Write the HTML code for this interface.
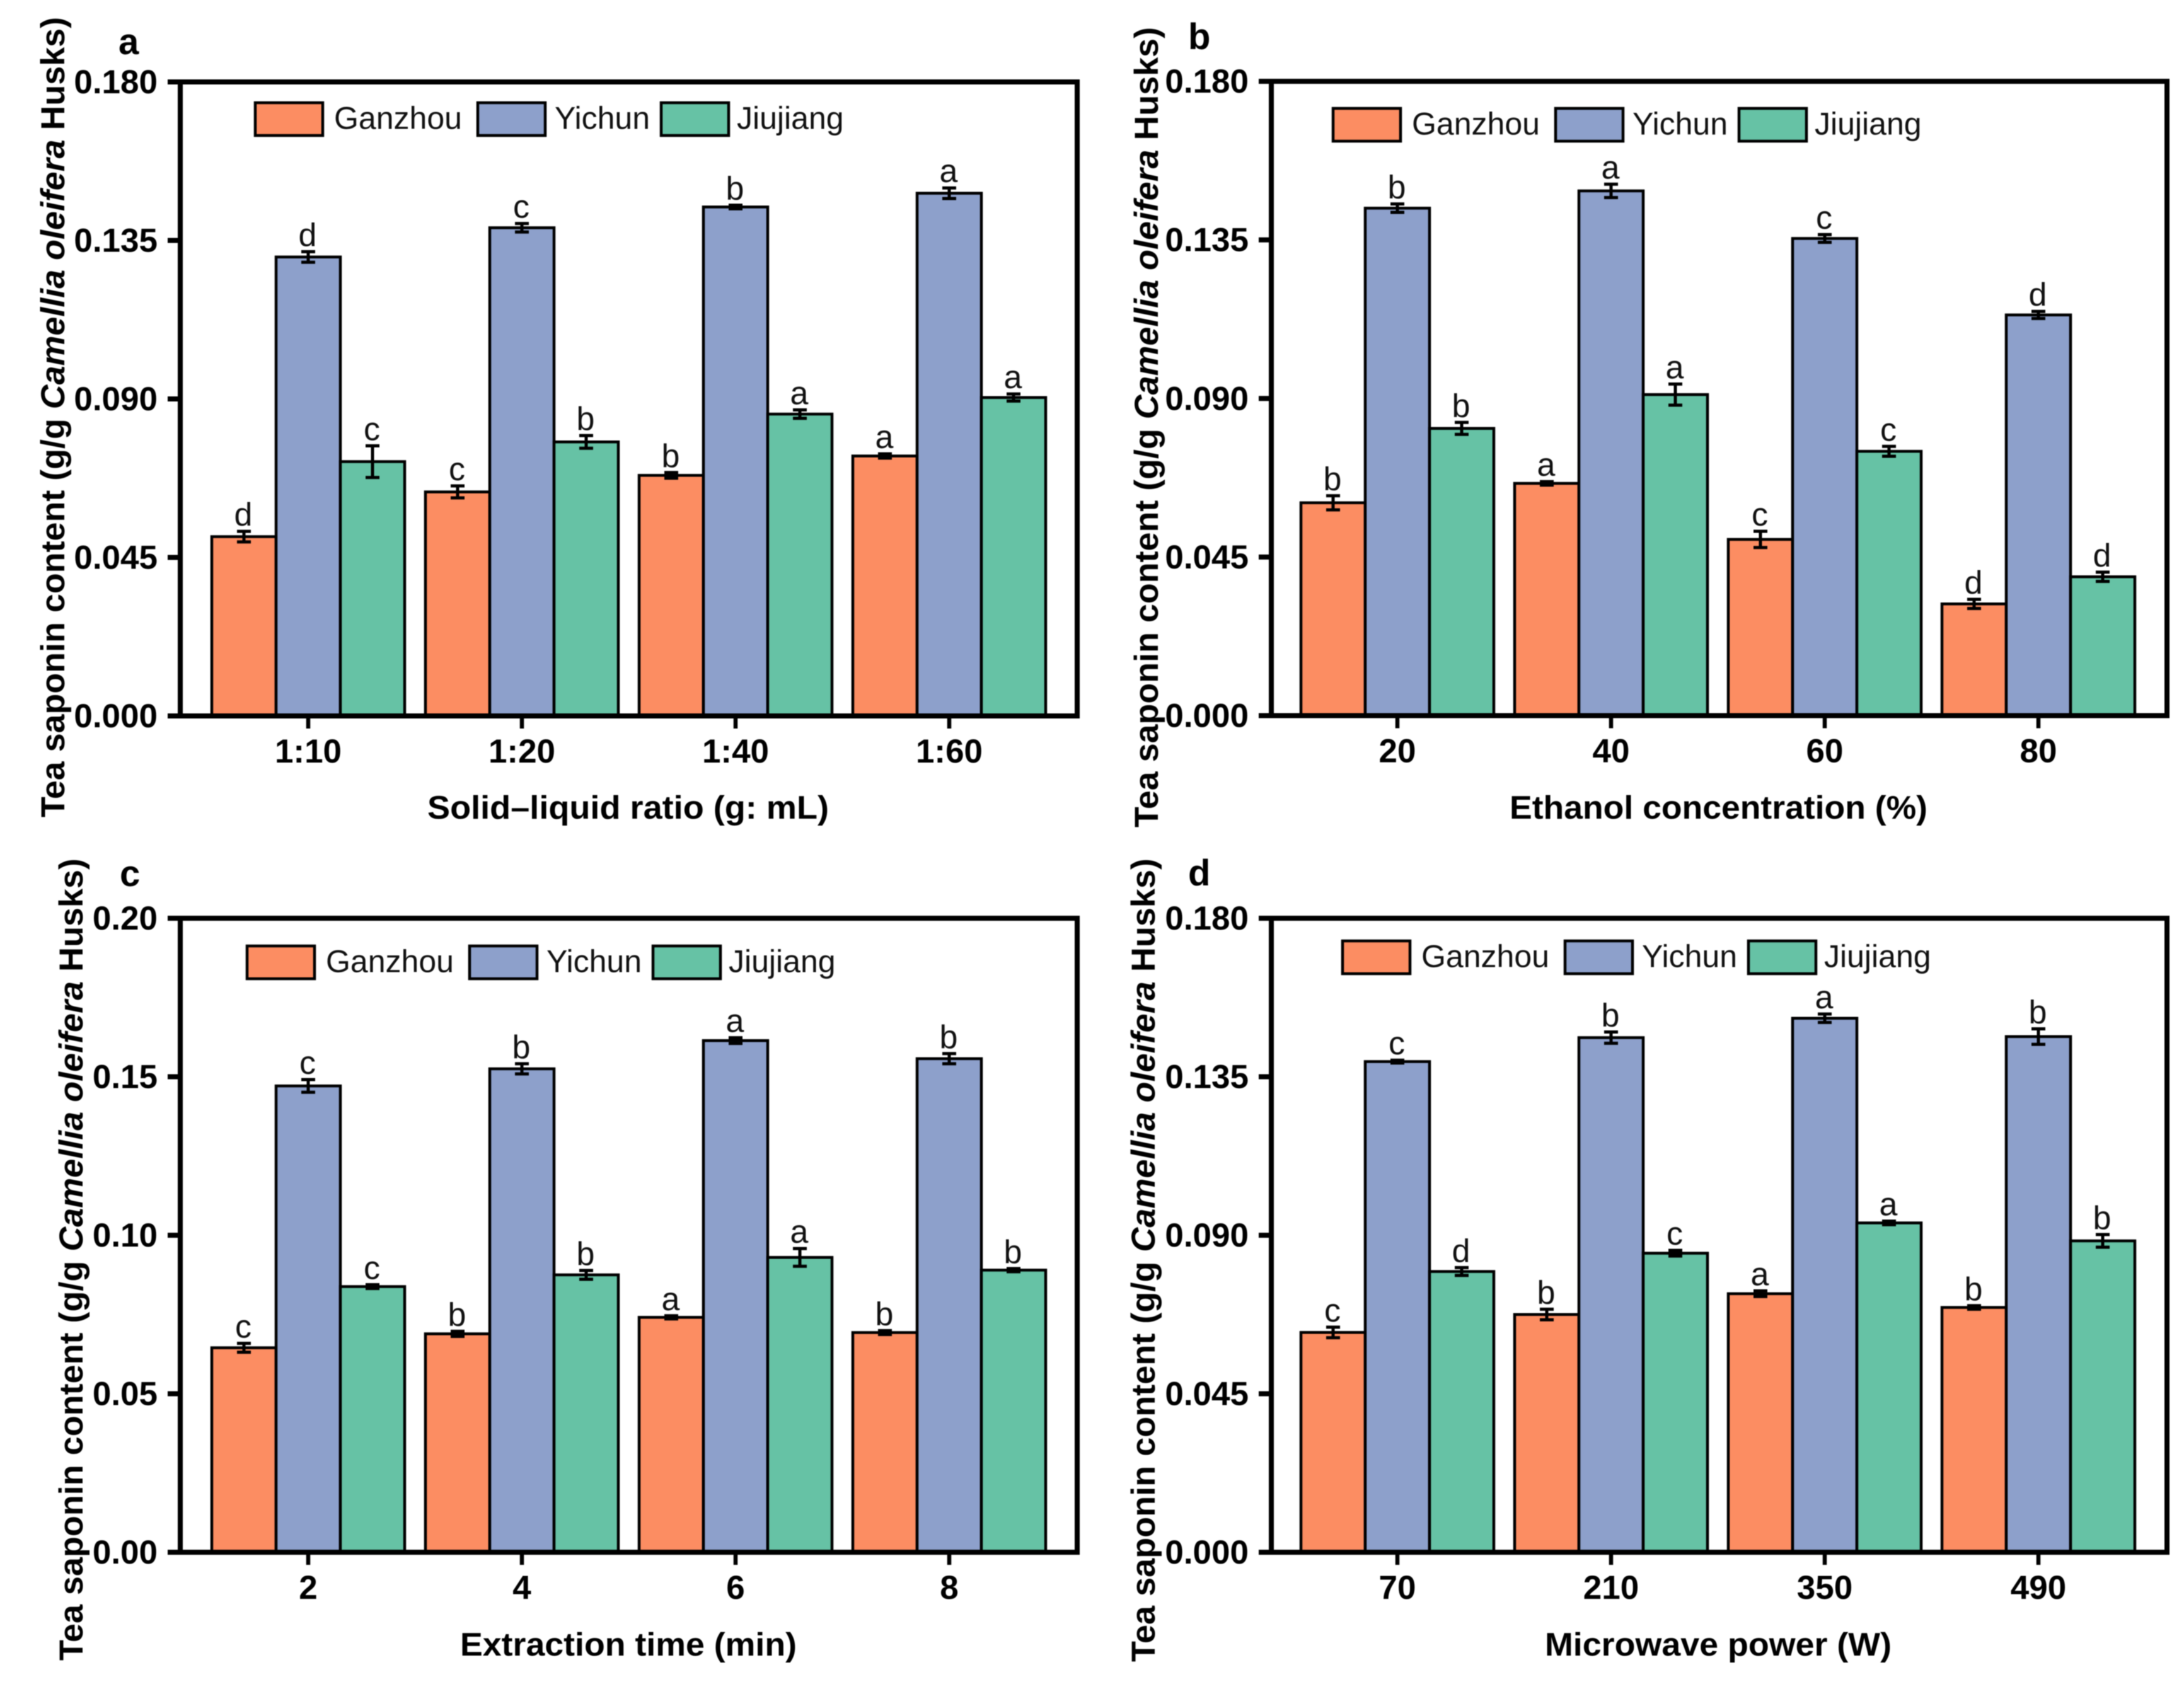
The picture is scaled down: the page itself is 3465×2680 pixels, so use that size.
<!DOCTYPE html>
<html lang="en">
<head>
<meta charset="utf-8">
<title>Tea saponin content by extraction condition</title>
<style>
html,body{margin:0;padding:0;background:#fff;}
svg{display:block;font-family:"Liberation Sans",Arial,sans-serif;filter:blur(0.7px);}
.panel-letter{font-size:58px;font-weight:700;fill:#000;}
.axis-title{font-size:52px;font-weight:700;fill:#000;}
.y-title{font-size:53px;font-weight:700;fill:#000;}
.tick-label{font-size:53px;font-weight:700;fill:#000;}
.legend-text{font-size:50px;font-weight:400;fill:#111;}
.sig-letter{font-size:52px;font-weight:400;fill:#111;text-anchor:middle;}
.sw{stroke:#000;stroke-width:4.5;}
</style>
</head>
<body>
<svg id="chart" xmlns="http://www.w3.org/2000/svg" width="3465" height="2680" viewBox="0 0 3465 2680">
  <rect width="3465" height="2680" fill="#fff"/>

  <g id="panel-a">
    <text class="panel-letter" x="188" y="86">a</text>
    <text class="y-title" transform="translate(102,1297) rotate(-90)" textLength="1270" lengthAdjust="spacingAndGlyphs">Tea saponin content (g/g <tspan font-style="italic">Camellia oleifera</tspan> Husks)</text>
    <text class="axis-title" x="678" y="1299" textLength="637" lengthAdjust="spacingAndGlyphs">Solid–liquid ratio (g: mL)</text>
  </g>

  <g id="panel-b">
    <text class="panel-letter" x="1885" y="78">b</text>
    <text class="y-title" transform="translate(1837,1313) rotate(-90)" textLength="1270" lengthAdjust="spacingAndGlyphs">Tea saponin content (g/g <tspan font-style="italic">Camellia oleifera</tspan> Husks)</text>
    <text class="axis-title" x="2395" y="1299" textLength="663" lengthAdjust="spacingAndGlyphs">Ethanol concentration (%)</text>
  </g>

  <g id="panel-c">
    <text class="panel-letter" x="190" y="1406">c</text>
    <text class="y-title" transform="translate(131,2635) rotate(-90)" textLength="1273" lengthAdjust="spacingAndGlyphs">Tea saponin content (g/g <tspan font-style="italic">Camellia oleifera</tspan> Husks)</text>
    <text class="axis-title" x="730" y="2627" textLength="534" lengthAdjust="spacingAndGlyphs">Extraction time (min)</text>
  </g>

  <g id="panel-d">
    <text class="panel-letter" x="1885" y="1405">d</text>
    <text class="y-title" transform="translate(1832,2637) rotate(-90)" textLength="1275" lengthAdjust="spacingAndGlyphs">Tea saponin content (g/g <tspan font-style="italic">Camellia oleifera</tspan> Husks)</text>
    <text class="axis-title" x="2451" y="2627" textLength="550" lengthAdjust="spacingAndGlyphs">Microwave power (W)</text>
  </g>

  <g id="legend-a">
    <rect class="sw" x="405" y="163" width="107" height="52" fill="#FC8D62"/>
    <text class="legend-text" x="530" y="204.5">Ganzhou</text>
    <rect class="sw" x="758" y="163" width="107" height="52" fill="#8DA0CB"/>
    <text class="legend-text" x="880" y="204.5">Yichun</text>
    <rect class="sw" x="1049" y="163" width="107" height="52" fill="#66C2A5"/>
    <text class="legend-text" x="1169" y="204.5">Jiujiang</text>
  </g>
  <g id="legend-b">
    <rect class="sw" x="2115" y="172" width="107" height="52" fill="#FC8D62"/>
    <text class="legend-text" x="2240" y="213.5">Ganzhou</text>
    <rect class="sw" x="2468" y="172" width="107" height="52" fill="#8DA0CB"/>
    <text class="legend-text" x="2590" y="213.5">Yichun</text>
    <rect class="sw" x="2759" y="172" width="107" height="52" fill="#66C2A5"/>
    <text class="legend-text" x="2879" y="213.5">Jiujiang</text>
  </g>
  <g id="legend-c">
    <rect class="sw" x="392" y="1501" width="107" height="52" fill="#FC8D62"/>
    <text class="legend-text" x="517" y="1542.5">Ganzhou</text>
    <rect class="sw" x="745" y="1501" width="107" height="52" fill="#8DA0CB"/>
    <text class="legend-text" x="867" y="1542.5">Yichun</text>
    <rect class="sw" x="1036" y="1501" width="107" height="52" fill="#66C2A5"/>
    <text class="legend-text" x="1156" y="1542.5">Jiujiang</text>
  </g>
  <g id="legend-d">
    <rect class="sw" x="2130" y="1493" width="107" height="52" fill="#FC8D62"/>
    <text class="legend-text" x="2255" y="1534.5">Ganzhou</text>
    <rect class="sw" x="2483" y="1493" width="107" height="52" fill="#8DA0CB"/>
    <text class="legend-text" x="2605" y="1534.5">Yichun</text>
    <rect class="sw" x="2774" y="1493" width="107" height="52" fill="#66C2A5"/>
    <text class="legend-text" x="2894" y="1534.5">Jiujiang</text>
  </g>
</svg>

<script>
// Panel a: solid-liquid ratio
const categoriesA = ['1:10', '1:20', '1:40', '1:60'];
const yTicksA = ['0.000', '0.045', '0.090', '0.135', '0.180'];
const ganzhouA = [0.0509, 0.0636, 0.0683, 0.0738];
const yichunA = [0.1303, 0.1386, 0.1445, 0.1484];
const jiujiangA = [0.0722, 0.0778, 0.0857, 0.0904];
const ganzhouErrA = [0.0015, 0.0017, 0.0008, 0.0006];
const yichunErrA = [0.0015, 0.0012, 0.0005, 0.0015];
const jiujiangErrA = [0.0045, 0.0018, 0.0012, 0.0010];
const ganzhouSigA = ['d', 'c', 'b', 'a'];
const yichunSigA = ['d', 'c', 'b', 'a'];
const jiujiangSigA = ['c', 'b', 'a', 'a'];

// Panel b: ethanol concentration
const categoriesB = ['20', '40', '60', '80'];
const yTicksB = ['0.000', '0.045', '0.090', '0.135', '0.180'];
const ganzhouB = [0.0604, 0.0659, 0.0500, 0.0317];
const yichunB = [0.1440, 0.1489, 0.1354, 0.1137];
const jiujiangB = [0.0815, 0.0911, 0.0750, 0.0394];
const ganzhouErrB = [0.0020, 0.0005, 0.0023, 0.0013];
const yichunErrB = [0.0012, 0.0019, 0.0011, 0.0010];
const jiujiangErrB = [0.0017, 0.0030, 0.0014, 0.0013];
const ganzhouSigB = ['b', 'a', 'c', 'd'];
const yichunSigB = ['b', 'a', 'c', 'd'];
const jiujiangSigB = ['b', 'a', 'c', 'd'];

// Panel c: extraction time
const categoriesC = ['2', '4', '6', '8'];
const yTicksC = ['0.00', '0.05', '0.10', '0.15', '0.20'];
const ganzhouC = [0.0645, 0.0689, 0.0741, 0.0693];
const yichunC = [0.1471, 0.1525, 0.1614, 0.1557];
const jiujiangC = [0.0838, 0.0875, 0.0930, 0.0890];
const ganzhouErrC = [0.0014, 0.0008, 0.0005, 0.0006];
const yichunErrC = [0.0020, 0.0016, 0.0009, 0.0016];
const jiujiangErrC = [0.0006, 0.0014, 0.0028, 0.0005];
const ganzhouSigC = ['c', 'b', 'a', 'b'];
const yichunSigC = ['c', 'b', 'a', 'b'];
const jiujiangSigC = ['c', 'b', 'a', 'b'];

// Panel d: microwave power
const categoriesD = ['70', '210', '350', '490'];
const yTicksD = ['0.000', '0.045', '0.090', '0.135', '0.180'];
const ganzhouD = [0.0624, 0.0675, 0.0734, 0.0695];
const yichunD = [0.1393, 0.1461, 0.1516, 0.1464];
const jiujiangD = [0.0797, 0.0849, 0.0935, 0.0884];
const ganzhouErrD = [0.0015, 0.0015, 0.0008, 0.0005];
const yichunErrD = [0.0004, 0.0016, 0.0012, 0.0022];
const jiujiangErrD = [0.0011, 0.0008, 0.0005, 0.0018];
const ganzhouSigD = ['c', 'b', 'a', 'b'];
const yichunSigD = ['c', 'b', 'a', 'b'];
const jiujiangSigD = ['d', 'c', 'a', 'b'];

const seriesNames = ['ganzhou', 'yichun', 'jiujiang'];
const seriesColors = ['#FC8D62', '#8DA0CB', '#66C2A5'];

const NS = 'http://www.w3.org/2000/svg';
const CATEGORY_STEP = 339;
const BAR_WIDTH = 102;

function make(parent, tag, attrs) {
  const el = document.createElementNS(NS, tag);
  for (const k in attrs) el.setAttribute(k, attrs[k]);
  parent.appendChild(el);
  return el;
}

function drawPanel(id, frame, categories, yTicks, values, errors, sigs) {
  const group = document.getElementById('panel-' + id);
  const yMax = Number(yTicks[yTicks.length - 1]);
  const yScale = v => frame.bottom - (v / yMax) * (frame.bottom - frame.top);
  const xScale = i => frame.firstCenter + i * CATEGORY_STEP;

  // bars
  categories.forEach((cat, i) => {
    values.forEach((series, s) => {
      const barLeft = xScale(i) + (s - 1.5) * BAR_WIDTH;
      const barTop = yScale(series[i]);
      const bar = make(group, 'rect', {
        x: barLeft, y: barTop, width: BAR_WIDTH, height: frame.bottom - barTop,
        fill: seriesColors[s], stroke: '#000', 'stroke-width': 4.5
      });
      
      
    });
  });

  // error bars and significance letters
  categories.forEach((cat, i) => {
    values.forEach((series, s) => {
      const cx = xScale(i) + (s - 1) * BAR_WIDTH;
      const hi = yScale(series[i] + errors[s][i]);
      const lo = yScale(series[i] - errors[s][i]);
      const err = make(group, 'path', {
        d: 'M' + (cx - 11) + ' ' + hi + 'H' + (cx + 11) + 'M' + cx + ' ' + hi + 'V' + lo + 'M' + (cx - 11) + ' ' + lo + 'H' + (cx + 11),
        fill: 'none', stroke: '#000', 'stroke-width': 5
      });
      
      
      const sig = make(group, 'text', { x: cx - 1, y: hi - 9, class: 'sig-letter' });
      sig.textContent = sigs[s][i];
      
      
    });
  });

  // plot frame
  const box = make(group, 'rect', {
    x: frame.left, y: frame.top, width: frame.right - frame.left, height: frame.bottom - frame.top,
    fill: 'none', stroke: '#000', 'stroke-width': 8
  });
  
  

  // y ticks
  yTicks.forEach(label => {
    const y = yScale(Number(label));
    const tick = make(group, 'line', {
      x1: frame.left - 20, x2: frame.left, y1: y, y2: y, stroke: '#000', 'stroke-width': 8
    });
    
    
    const text = make(group, 'text', { x: frame.left - 36, y: y + 18, class: 'tick-label', 'text-anchor': 'end' });
    text.textContent = label;
    
    
  });

  // x ticks
  categories.forEach((cat, i) => {
    const x = xScale(i);
    const tick = make(group, 'line', {
      x1: x, x2: x, y1: frame.bottom, y2: frame.bottom + 20, stroke: '#000', 'stroke-width': 6.5
    });
    
    
    const text = make(group, 'text', { x: x, y: frame.bottom + 74, class: 'tick-label', 'text-anchor': 'middle' });
    text.textContent = cat;
    
    
  });
}

drawPanel('a', { left: 286, right: 1709, top: 130, bottom: 1136, firstCenter: 489 }, categoriesA, yTicksA,
  [ganzhouA, yichunA, jiujiangA], [ganzhouErrA, yichunErrA, jiujiangErrA], [ganzhouSigA, yichunSigA, jiujiangSigA]);
drawPanel('b', { left: 2017, right: 3438, top: 129, bottom: 1135.5, firstCenter: 2217 }, categoriesB, yTicksB,
  [ganzhouB, yichunB, jiujiangB], [ganzhouErrB, yichunErrB, jiujiangErrB], [ganzhouSigB, yichunSigB, jiujiangSigB]);
drawPanel('c', { left: 286, right: 1709, top: 1457, bottom: 2463, firstCenter: 489 }, categoriesC, yTicksC,
  [ganzhouC, yichunC, jiujiangC], [ganzhouErrC, yichunErrC, jiujiangErrC], [ganzhouSigC, yichunSigC, jiujiangSigC]);
drawPanel('d', { left: 2017, right: 3438, top: 1457, bottom: 2463, firstCenter: 2217 }, categoriesD, yTicksD,
  [ganzhouD, yichunD, jiujiangD], [ganzhouErrD, yichunErrD, jiujiangErrD], [ganzhouSigD, yichunSigD, jiujiangSigD]);
</script>
</body>
</html>
